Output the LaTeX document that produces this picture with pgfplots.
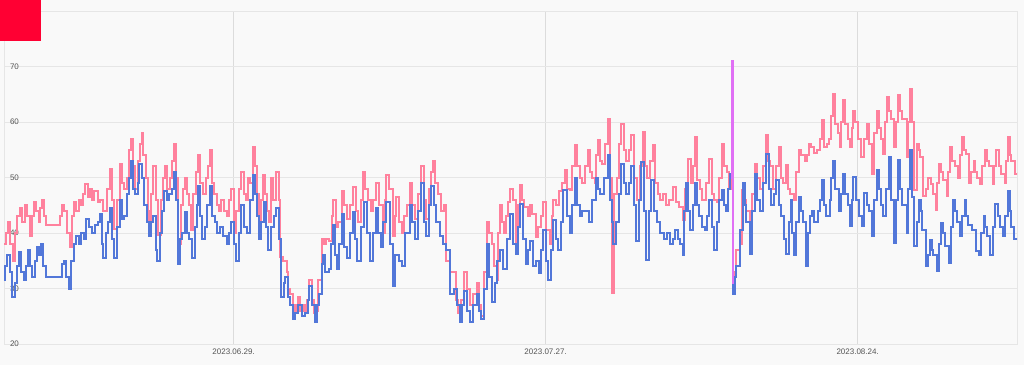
\documentclass[border=0pt]{standalone}
\usepackage{fontspec}
\setmainfont{Liberation Sans}
\usepackage{pgfplots}
\pgfplotsset{compat=1.18}
\definecolor{bgc}{HTML}{F9F9F9}
\definecolor{gridc}{HTML}{E6E6E6}
\definecolor{vgridc}{HTML}{DCDCDC}
\definecolor{pinkc}{HTML}{FF819D}
\definecolor{bluec}{HTML}{5277D9}
\definecolor{violetc}{HTML}{E070F5}
\definecolor{redsq}{HTML}{FF0033}
\definecolor{labc}{HTML}{555555}
\pgfplotsset{pk/.style={const plot, draw=pinkc, line width=1.5pt, no markers},
             bl/.style={const plot, draw=bluec, line width=1.5pt, no markers}}
\begin{document}
\begin{tikzpicture}
\fill[bgc] (0,0) rectangle (768pt,273.75pt);
\useasboundingbox (0,0) rectangle (768pt,273.75pt);
\begin{axis}[
  at={(3pt,15.75pt)}, anchor=south west,
  scale only axis, width=759.75pt, height=249.75pt,
  xmin=-20.6, xmax=70.3, ymin=20, ymax=80,
  axis line style={draw=gridc, line width=0.75pt},
  major tick length=0pt,
  ytick={20,30,40,50,60,70},
  xtick={0,28,56},
  xticklabels={2023.06.29.,2023.07.27.,2023.08.24.},
  ymajorgrids, xmajorgrids,
  y grid style={draw=gridc, line width=0.75pt},
  x grid style={draw=vgridc, line width=0.75pt},
  /pgf/number format/assume math mode=true,
  yticklabel style={anchor=west, xshift=1pt, font=\fontsize{6}{7}\selectfont, text=labc},
  xticklabel style={font=\fontsize{6}{7}\selectfont, text=labc},
]
% ---- pink series ----
\addplot[pk] coordinates {(-20.9,38) (-20.6,38) (-20.45,40) (-20.25,42) (-20.05,38) (-19.8,35) (-19.6,40) (-19.4,43) (-19.2,44.5) (-18.95,42) (-18.7,45) (-18.5,43) (-18.3,39.5) (-18.1,43) (-17.9,45.5) (-17.7,44) (-17.5,42) (-17.35,44.5) (-17.2,46) (-17.0,43) (-16.8,41.5) (-15.55,43) (-15.4,45) (-15.2,44) (-14.95,40) (-14.7,37.5) (-14.5,43) (-14.3,45.5) (-14.1,44) (-13.9,46)
(-13.7,45) (-13.5,47) (-13.3,48.8) (-13.1,46.5) (-12.9,48) (-12.7,46) (-12.5,47.5) (-12.2,45.5) (-12.0,46) (-11.7,44) (-11.4,48) (-11.1,51.5) (-10.9,46) (-10.7,40.8) (-10.5,46) (-10.2,52.5) (-10.0,49) (-9.8,48) (-9.6,50) (-9.4,55) (-9.2,57) (-9.0,52) (-8.85,48) (-8.6,53) (-8.4,56) (-8.25,58) (-8.1,54) (-7.9,50) (-7.7,44)
(-7.55,40.8) (-7.4,47) (-7.2,52) (-7.0,46) (-6.75,39.7) (-6.5,46) (-6.3,50) (-6.15,52) (-5.95,48) (-5.7,50) (-5.5,53) (-5.35,56) (-5.15,50) (-4.95,38) (-4.75,45) (-4.55,48) (-4.4,50) (-4.2,47) (-4.0,45) (-3.8,40.5) (-3.6,47) (-3.4,51) (-3.2,54) (-3.0,49) (-2.7,47) (-2.5,50) (-2.3,52) (-2.15,55) (-1.95,49)
(-1.75,47) (-1.5,45) (-1.3,44) (-1.1,46) (-0.9,44) (-0.6,43) (-0.4,46) (-0.2,48) (0.0,40) (0.2,44) (0.45,48) (0.7,51) (0.9,47) (1.1,46) (1.3,50) (1.5,49) (1.7,55.5) (1.9,52) (2.1,47) (2.3,42) (2.5,46) (2.65,50.5) (2.8,47) (3.0,44) (3.15,42) (3.35,50) (3.55,46) (3.8,51) (4.05,46) (4.15,35.7)
(4.45,35) (4.75,33) (4.9,30) (5.1,29) (5.3,27) (5.5,26) (5.65,27) (5.8,28.5) (6.0,26) (6.2,27) (6.45,26) (6.6,28) (6.8,31.5) (7.0,28) (7.25,25.5) (7.5,26) (7.6,31.5) (7.9,39) (8.1,38) (8.3,39) (8.6,38.5) (8.8,43) (8.95,46) (9.15,41) (9.4,42) (9.7,47.5) (9.95,45) (10.2,42.5) (10.45,45)
(10.7,48.3) (10.95,44) (11.2,42) (11.4,46) (11.6,51) (11.8,48) (12.05,46) (12.3,44) (12.55,46) (12.8,49) (13.05,45) (13.4,40) (13.55,46) (13.7,50.5) (13.95,48) (14.3,39.5) (14.45,43) (14.6,46.5) (14.85,42) (15.1,40) (15.3,43) (15.55,45) (15.8,49) (16.05,45) (16.3,42.5) (16.55,47) (16.8,52) (17.05,46) (17.3,42.5)
(17.55,48) (17.75,51) (17.9,53) (18.05,49) (18.3,47) (18.6,44) (18.9,45) (19.1,35) (19.4,33) (19.8,33) (20.0,28) (20.15,25.5) (20.4,28) (20.7,33) (20.95,30) (21.2,27) (21.5,29) (21.8,31) (22.0,27) (22.2,25) (22.45,33) (22.7,42) (22.9,40) (23.2,38) (23.4,34) (23.6,31.5) (23.75,40) (23.9,45) (24.1,42)
(24.3,40) (24.45,43) (24.6,45.5) (24.8,48) (25.05,46) (25.3,38) (25.5,45) (25.7,48.6) (25.9,46) (26.1,44.7) (26.4,43) (26.6,45) (26.8,43.5) (27.1,39.3) (27.3,41) (27.55,43) (27.8,45.6) (28.05,40.5) (28.4,38) (28.55,43) (28.7,46) (28.95,45) (29.2,47.5) (29.45,49) (29.7,51.3) (29.95,48) (30.2,47.7) (30.4,52) (30.6,55.8)
(30.8,52) (31.05,50) (31.3,49) (31.55,52) (31.8,55) (32.0,51) (32.2,50) (32.4,49) (32.55,54) (32.7,56.7) (32.9,53) (33.1,52.5) (33.35,56) (33.6,60.6) (33.8,50) (33.95,45) (34.0,29.2) (34.1,29.2) (34.15,47) (34.4,50) (34.6,56) (34.8,59.7) (35.0,55) (35.2,53) (35.45,55) (35.7,57.6) (35.95,50) (36.2,46) (36.45,52)
(36.7,58.2) (36.9,52) (37.1,50) (37.35,53) (37.6,55.8) (37.85,49) (38.1,47) (38.3,46) (38.55,47) (38.8,45) (39.1,46) (39.4,48.3) (39.7,45.5) (40.0,44.7) (40.3,42.3) (40.55,48) (40.8,53.4) (41.05,49) (41.25,52) (41.4,57.3) (41.6,49.5) (41.85,48) (42.05,46) (42.35,49) (42.65,53.4) (42.9,47) (43.1,46) (43.35,45.5) (43.6,50)
(43.8,56) (44.05,52) (44.25,51) (44.45,48) (44.6,50) (44.7,71) (44.78,31) (44.95,33) (45.1,37) (45.4,38) (45.6,47.7) (45.85,46) (46.0,44) (46.3,39.3) (46.55,47) (46.8,52.5) (47.0,50) (47.25,48) (47.5,52) (47.75,57.6) (47.95,53) (48.15,52) (48.4,48) (48.65,52) (48.9,55.5) (49.1,50) (49.3,49) (49.55,52.2) (49.75,48)
(49.95,47) (50.25,46) (50.5,51) (50.7,55) (50.95,54) (51.25,53) (51.45,54) (51.6,56) (51.85,55.5) (52.1,54.5) (52.35,55) (52.6,57) (52.8,60.3) (53.0,55.5) (53.25,56) (53.45,57) (53.65,61) (53.8,65) (54.0,59.7) (54.25,58) (54.45,55.5) (54.55,60) (54.7,64) (54.9,59.7) (55.15,57) (55.3,55.5) (55.45,59) (55.6,62) (55.8,60)
(56.0,57) (56.3,53.7) (56.55,57) (56.8,59.7) (57.0,56) (57.3,50.7) (57.5,58) (57.7,62) (57.9,59) (58.1,57) (58.3,54.3) (58.45,60) (58.6,64.5) (58.8,62) (59.0,60.5) (59.3,55.5) (59.45,60) (59.6,64.8) (59.8,62) (60.0,60.5) (60.4,53.7) (60.55,60) (60.7,66) (60.9,60) (61.05,56) (61.1,47.8) (61.3,56) (61.5,55) (61.6,53.7)
(61.9,46.6) (62.1,48) (62.3,50) (62.6,48.8) (62.8,47) (63.0,44.2) (63.15,49) (63.3,52.5) (63.5,51) (63.7,49.6) (64.0,46.6) (64.15,51) (64.3,55.5) (64.5,53) (64.7,52) (65.0,50) (65.2,54) (65.4,57.3) (65.55,55) (65.7,54.3) (66.0,49) (66.2,51) (66.4,53) (66.55,51) (66.7,50) (67.0,48.8) (67.2,52) (67.4,55) (67.6,53)
(67.8,52) (68.1,48.8) (68.25,52) (68.4,55) (68.65,52) (68.9,50.7) (69.2,49) (69.35,53) (69.5,57.3) (69.65,54) (69.8,53) (70.1,50.7) (70.4,51)};
% ---- blue series ----
\addplot[bl] coordinates {(-20.9,30) (-20.7,31.5) (-20.5,34) (-20.3,36) (-20.1,33) (-19.85,28.5) (-19.65,31) (-19.45,34) (-19.25,36.5) (-19.05,33) (-18.85,31.5) (-18.65,34) (-18.45,37) (-18.25,34) (-18.05,32) (-17.85,35) (-17.65,37.5) (-17.45,36) (-17.3,38) (-17.1,34) (-16.85,32) (-15.55,32) (-15.4,34.5) (-15.25,35) (-15.0,32) (-14.75,30) (-14.55,35) (-14.35,38) (-14.1,39.5) (-13.9,38)
(-13.65,40) (-13.4,39) (-13.2,42.5) (-12.95,41) (-12.7,40) (-12.45,41.5) (-12.2,42) (-12.0,43.5) (-11.85,38) (-11.7,35.5) (-11.45,40) (-11.25,42) (-11.1,44.5) (-10.9,39) (-10.7,35.5) (-10.5,41) (-10.2,46) (-10.0,42.5) (-9.8,43) (-9.6,47) (-9.4,50) (-9.2,53) (-9.0,48) (-8.85,47) (-8.6,49) (-8.45,52.5) (-8.25,50) (-8.05,45) (-7.8,42)
(-7.6,39.5) (-7.4,42) (-7.2,43) (-7.0,37) (-6.9,35) (-6.6,40) (-6.4,44) (-6.2,47.5) (-6.0,46) (-5.75,47) (-5.55,48) (-5.35,51) (-5.15,46) (-5.0,34.5) (-4.8,39) (-4.6,40) (-4.4,43.8) (-4.2,40) (-4.0,39) (-3.75,35.5) (-3.5,41) (-3.3,45) (-3.2,48.5) (-3.0,43) (-2.8,39) (-2.6,41) (-2.35,45) (-2.15,48.5) (-1.95,43)
(-1.7,42) (-1.45,40) (-1.2,41) (-0.95,39.5) (-0.6,38) (-0.4,40) (-0.2,42) (0.0,38) (0.2,35) (0.45,40) (0.7,45) (0.95,41) (1.2,40) (1.45,46) (1.7,50.5) (1.9,47) (2.1,43) (2.3,39) (2.5,42) (2.7,45.5) (2.9,41) (3.1,37) (3.35,41) (3.6,43) (3.8,44.5) (4.05,39) (4.3,28.5) (4.5,31) (4.65,32)
(4.9,28.5) (5.1,27) (5.3,24.5) (5.55,25.5) (5.8,27) (6.1,25) (6.4,25.5) (6.65,28) (6.8,30.5) (7.05,27) (7.3,24) (7.5,27) (7.65,29) (7.9,34.5) (8.05,36) (8.2,33) (8.6,33.5) (8.75,38) (8.9,41.5) (9.1,36) (9.25,33.5) (9.5,38) (9.7,43.5) (9.9,37.5) (10.2,35.5) (10.45,40) (10.7,43.8) (10.9,39) (11.1,35)
(11.4,41) (11.7,45.5) (11.95,40) (12.2,35) (12.5,40) (12.8,44.5) (13.0,40) (13.2,37.5) (13.45,42) (13.7,45.5) (14.0,38) (14.3,30.5) (14.5,36) (14.8,35) (15.1,34) (15.4,40) (15.8,45) (16.0,42) (16.3,39) (16.55,44) (16.8,49) (17.05,42) (17.3,39.5) (17.55,45) (17.75,48.5) (17.95,45) (18.2,42) (18.5,39.5) (18.8,38)
(19.1,37) (19.4,29) (19.8,30) (20.05,27) (20.3,24) (20.5,27) (20.7,29.5) (20.95,26) (21.2,24) (21.5,27) (21.8,29) (22.0,26) (22.2,24.5) (22.45,30) (22.7,38) (22.95,32) (23.2,27.5) (23.45,31) (23.6,35) (23.9,37) (24.2,33.5) (24.5,39) (24.8,43.5) (25.05,38) (25.3,36.3) (25.5,41) (25.7,45.3) (25.95,39) (26.2,34.5)
(26.4,37) (26.6,38.5) (26.9,34) (27.1,35) (27.4,32.8) (27.6,37) (27.8,40.5) (28.0,35) (28.2,31.6) (28.45,37) (28.7,42.3) (28.9,39) (29.1,37) (29.35,42) (29.6,47.7) (29.9,43) (30.2,40) (30.4,45) (30.6,50) (30.85,45) (31.1,43) (31.3,44) (31.55,44) (31.9,42) (32.2,46) (32.5,50) (32.7,48) (32.9,47) (33.2,50)
(33.6,54) (33.8,46) (33.95,42) (34.05,38) (34.3,42) (34.55,47) (34.8,52.5) (35.0,49) (35.2,47) (35.45,49) (35.7,52) (35.9,45) (36.1,38.5) (36.35,46) (36.6,52.8) (36.8,44) (37.0,35.2) (37.25,44) (37.5,49.5) (37.75,44) (38.0,42) (38.3,40) (38.6,39) (38.9,40) (39.2,38) (39.4,39) (39.6,40.5) (39.85,39) (40.1,38)
(40.3,36) (40.45,44) (40.6,49) (40.8,44) (41.0,40.5) (41.2,45) (41.4,49) (41.6,45) (41.8,43) (42.05,41) (42.3,40.5) (42.5,43) (42.7,46) (42.9,41) (43.1,37) (43.4,42) (43.6,46) (43.8,47.7) (44.0,45) (44.2,44) (44.4,48) (44.55,50.7) (44.7,56) (44.8,29) (45.0,32) (45.1,34) (45.4,40.5) (45.7,49) (45.9,45)
(46.0,42) (46.3,36.3) (46.55,44) (46.8,50.7) (47.0,46) (47.2,44) (47.5,49) (47.8,54.3) (48.0,48) (48.2,45) (48.45,47) (48.7,49.5) (48.9,45) (49.1,43) (49.35,39) (49.6,36.3) (49.8,42) (50.0,46) (50.15,40) (50.3,36) (50.5,42) (50.7,46.5) (50.9,44) (51.1,42) (51.4,34) (51.55,40) (51.7,43) (51.9,44) (52.1,42)
(52.4,44) (52.6,46) (52.8,49.5) (53.0,45) (53.2,43) (53.5,46) (53.65,50) (53.8,53) (54.0,48) (54.3,44) (54.5,47) (54.7,50.7) (54.9,47) (55.1,45) (55.3,41.2) (55.45,46) (55.6,50.1) (55.85,46) (56.1,43) (56.4,41.2) (56.6,47.2) (56.8,45) (57.0,44) (57.3,39.4) (57.5,46) (57.7,51.3) (57.9,48) (58.1,45) (58.3,43)
(58.55,48) (58.8,53.7) (59.0,46) (59.3,38.2) (59.45,46) (59.6,53.1) (59.8,48) (60.0,45) (60.4,40) (60.55,48) (60.7,55) (60.9,46.5) (61.1,37.6) (61.3,42) (61.5,46) (61.65,44) (61.8,40.6) (62.1,34) (62.3,36) (62.5,38.8) (62.65,37) (62.8,36) (63.1,33.1) (63.3,38) (63.5,41.8) (63.65,40) (63.8,37.6) (64.2,34.6) (64.4,41)
(64.6,46) (64.75,44) (64.9,42) (65.2,39.5) (65.4,43) (65.6,46) (65.75,43) (65.9,41.5) (66.3,40.5) (66.6,36.7) (66.9,36) (67.1,40) (67.3,43) (67.45,41) (67.6,39.5) (67.9,36) (68.1,41) (68.3,45.3) (68.55,43) (68.8,41) (69.0,39.4) (69.25,43) (69.5,47.5) (69.65,44) (69.8,41) (70.0,39) (70.4,39)};
\addplot[const plot, draw=violetc, line width=1.5pt, no markers] coordinates {(44.62,50) (44.7,71) (44.78,31) (44.8,31)};
\end{axis}
\fill[redsq] (0,243pt) rectangle (30.75pt,273.75pt);
\end{tikzpicture}
\end{document}
